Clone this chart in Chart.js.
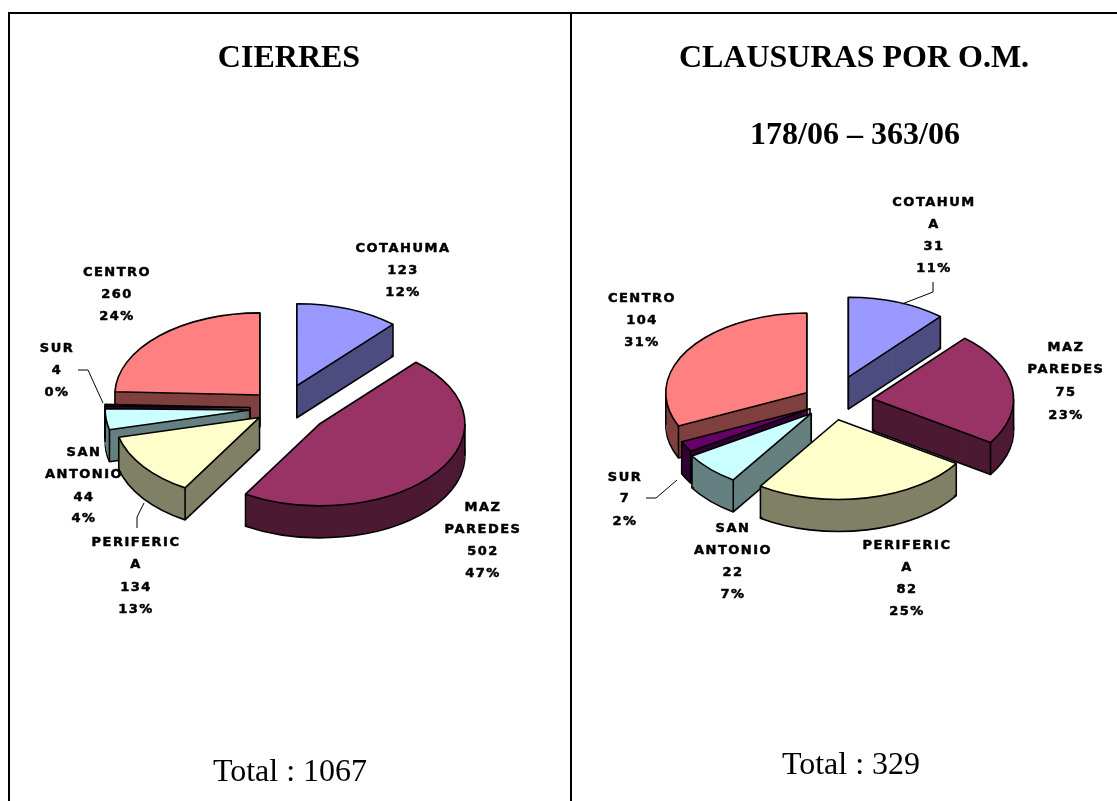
<!DOCTYPE html>
<html><head><meta charset="utf-8">
<script src="https://cdn.jsdelivr.net/npm/chart.js@4"></script>
<style>
html,body{margin:0;padding:0;background:#fff;overflow:hidden}
body{width:1117px;height:801px;position:relative}
.rule{position:absolute;background:#000}
canvas{position:absolute}
.t{position:absolute;font-family:"Liberation Serif",serif;font-size:32px;line-height:32px;white-space:nowrap;transform:translateX(-50%);color:#000}
.b{font-weight:bold}
</style></head><body>
<div class="rule" style="left:8px;top:12px;width:1109px;height:2px"></div>
<div class="rule" style="left:8px;top:12px;width:2px;height:789px"></div>
<div class="rule" style="left:570px;top:12px;width:2px;height:789px"></div>
<canvas id="c1" style="left:15px;top:28px"></canvas>
<canvas id="c2" style="left:547px;top:5px"></canvas>
<div class="t b" style="left:289px;top:40px">CIERRES</div>
<div class="t b" style="left:854px;top:40px">CLAUSURAS POR O.M.</div>
<div class="t b" style="left:855px;top:117px">178/06 – 363/06</div>
<div class="t" style="left:290px;top:754px">Total : 1067</div>
<div class="t" style="left:851px;top:747px">Total : 329</div>
<script>
// Data
const categories = ["COTAHUMA","MAZ PAREDES","PERIFERICA","SAN ANTONIO","SUR","CENTRO"];
const cierresValues = [123,502,134,44,4,260];
const clausurasValues = [37,75,82,22,7,104];
const cierresLabels = [
 ["COTAHUMA","123","12%"],["MAZ","PAREDES","502","47%"],["PERIFERIC","A","134","13%"],
 ["SAN","ANTONIO","44","4%"],["SUR","4","0%"],["CENTRO","260","24%"]];
const clausurasLabels = [
 ["COTAHUM","A","31","11%"],["MAZ","PAREDES","75","23%"],["PERIFERIC","A","82","25%"],
 ["SAN","ANTONIO","22","7%"],["SUR","7","2%"],["CENTRO","104","31%"]];
// Style
const topColors  = ["#9999FF","#993366","#FFFFCC","#CCFFFF","#660066","#FF8080"];
const sideColors = ["#4D4D80","#4D1A33","#808066","#668080","#330033","#804040"];
const SQUASH = 0.566, DEPTH = 32;

function pie3d(opts){ return {
  id:'pie3d',
  beforeDatasetsDraw(chart){
    const ctx = chart.ctx, meta = chart.getDatasetMeta(0);
    const mid = el => (el.startAngle + el.endAngle)/2;
    const order = meta.data.map((el,i)=>i).sort((a,b)=>Math.sin(mid(meta.data[a]))-Math.sin(mid(meta.data[b])));
    for (const i of order){
      const el = meta.data[i], m = mid(el), d = opts.explode[i];
      const ox = Math.cos(m)*d, oy = Math.sin(m)*d;
      const cx = el.x, cy = el.y, R = el.outerRadius;
      const place = (lift)=>{ ctx.translate(cx+ox, cy+oy*SQUASH+lift); ctx.scale(1,SQUASH); ctx.translate(-cx,-cy); };
      const fill = (lift,color)=>{
        const saved = el.options;
        el.options = Object.assign({}, saved, {backgroundColor:color, borderWidth:0});
        ctx.save(); place(lift); el.draw(ctx); ctx.restore();
        el.options = saved;
      };
      const outline = (lift)=>{
        ctx.save(); place(lift); ctx.beginPath(); ctx.moveTo(cx,cy);
        ctx.arc(cx,cy,R,el.startAngle,el.endAngle); ctx.closePath(); ctx.restore();
        ctx.lineWidth=1.6; ctx.strokeStyle='#000'; ctx.lineJoin='round'; ctx.stroke();
      };
      // extruded side
      for (let k=DEPTH;k>=1;k--) fill(k,sideColors[i]);
      outline(DEPTH);
      for (let k=DEPTH-2;k>=1;k--) fill(k,sideColors[i]);
      // vertical edges
      const verts = [[cx,cy],[cx+R*Math.cos(el.startAngle),cy+R*Math.sin(el.startAngle)],[cx+R*Math.cos(el.endAngle),cy+R*Math.sin(el.endAngle)]];
      for (const a of [0,Math.PI,2*Math.PI,-Math.PI]) if (a>=el.startAngle&&a<=el.endAngle) verts.push([cx+R*Math.cos(a),cy]);
      ctx.lineWidth=1.6; ctx.strokeStyle='#000';
      for (const [vx,vy] of verts){
        const sx = vx+ox, sy = cy+(vy-cy)*SQUASH+oy*SQUASH;
        ctx.beginPath(); ctx.moveTo(sx,sy); ctx.lineTo(sx,sy+DEPTH); ctx.stroke();
      }
      // top face
      fill(0,topColors[i]);
      outline(0);
    }
    return false;
  },
  afterDraw(chart){
    const ctx = chart.ctx;
    ctx.save();
    ctx.strokeStyle='#000'; ctx.lineWidth=1;
    for (const line of opts.leaders){
      ctx.beginPath();
      line.forEach((p,j)=> j? ctx.lineTo(p[0]-opts.left,p[1]-opts.top):ctx.moveTo(p[0]-opts.left,p[1]-opts.top));
      ctx.stroke();
    }
    ctx.font='bold 13px "DejaVu Sans"';
    ctx.letterSpacing='1.5px';
    ctx.textAlign='center'; ctx.textBaseline='middle'; ctx.fillStyle='#000';
    ctx.strokeStyle='#000'; ctx.lineWidth=0.5; ctx.lineJoin='round';
    opts.labels.forEach((lines,i)=>{
      const [x,ys]=opts.labelPos[i];
      lines.forEach((s,j)=>{
        ctx.fillText(s,x-opts.left,ys[j]+1-opts.top);
        ctx.strokeText(s,x-opts.left,ys[j]+1-opts.top);
      });
    });
    ctx.restore();
  }
};}

function makeChart(id,values,opts){
  const cv=document.getElementById(id);
  cv.width=opts.w; cv.height=opts.h; cv.style.width=opts.w+'px'; cv.style.height=opts.h+'px';
  return new Chart(cv,{
    type:'pie',
    data:{labels:categories,datasets:[{data:values,backgroundColor:topColors,borderWidth:0}]},
    options:{responsive:false,animation:false,radius:opts.radius,
      plugins:{legend:{display:false},tooltip:{enabled:false},title:{display:false}}},
    plugins:[pie3d(opts)]
  });
}

// chart centre = left + w/2, top + h/2
makeChart('c1',cierresValues,{left:15,top:28,w:534,h:760,radius:145,
  explode:[42,47,28,32,32,32],labels:cierresLabels,
  labelPos:[[403,[248,270,292]],[483,[507,529,551,573]],[136,[542,564,587,609]],[84,[452,474,497,518]],[57,[348,370,392]],[117,[272,294,316]]],
  leaders:[[[78,370],[88,370],[103,403]],[[137,528],[137,517],[144,503]]]});
makeChart('c2',clausurasValues,{left:547,top:5,w:570,h:794,radius:141,
  explode:[47,41,32,29,25,30],labels:clausurasLabels,
  labelPos:[[934,[202,224,246,268]],[1066,[347,369,392,415]],[907,[545,567,589,611]],[733,[528,550,572,594]],[625,[477,498,521]],[642,[298,320,342]]],
  leaders:[[[933,282],[933,292],[902,304]],[[646,498],[656,498],[677,480]]]});
</script>
</body></html>
